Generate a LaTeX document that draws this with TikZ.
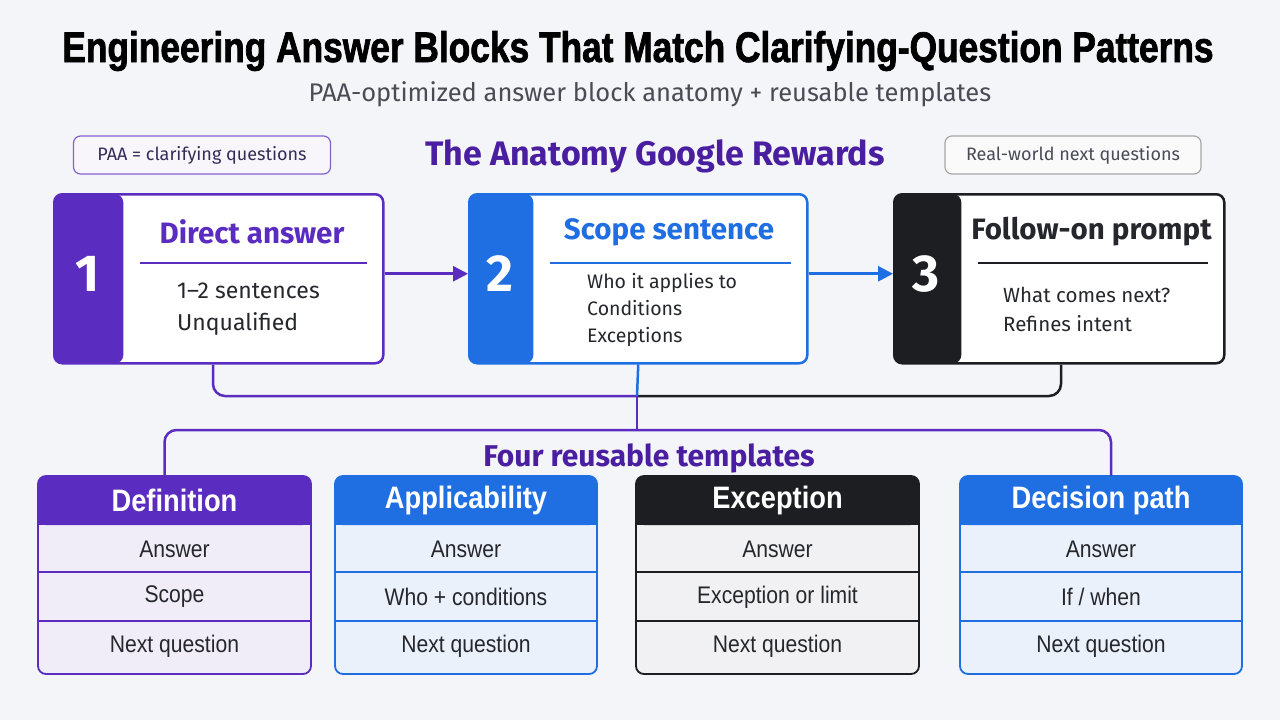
\documentclass[tikz,border=0pt]{standalone}
\usepackage{fontspec}
\usepackage{graphicx}
\setmainfont{Fira Sans}
\newfontfamily\condfont{Liberation Sans}[FakeStretch=0.88]
\newfontfamily\titlefont{Liberation Sans}[FakeStretch=0.8, BoldFeatures={FakeBold=1.6}]
\usetikzlibrary{positioning, arrows.meta, calc}

\definecolor{pbg}{HTML}{F4F5F8}
\definecolor{vio}{HTML}{5A2DC0}
\definecolor{vioT}{HTML}{4A1EA0}
\definecolor{blu}{HTML}{1F6FE2}
\definecolor{blk}{HTML}{1D1E22}
\definecolor{ink}{HTML}{26272C}
\definecolor{greyT}{HTML}{4A4B55}
\definecolor{pilltxt}{HTML}{362C58}
\definecolor{lav}{HTML}{F0EDF8}
\definecolor{lblu}{HTML}{EAF1FB}
\definecolor{lgry}{HTML}{F1F1F3}

\begin{document}
\begin{tikzpicture}[x=1pt, y=-1pt, >={Triangle[length=15pt,width=15pt]},
  pill/.style={draw, rounded corners=7pt, line width=1.2pt, minimum height=38pt, font=\fontsize{18}{20}\selectfont},
  card/.style={draw, fill=white, rounded corners=8pt, line width=2.5pt, minimum height=169pt, anchor=north west, inner sep=0},
  num/.style={text=white, font=\fontsize{52}{52}\selectfont\bfseries},
  head/.style={font=\fontsize{29.5}{32}\selectfont\bfseries},
  lbl/.style={text=ink, align=left, anchor=west, inner sep=0},
  tplhead/.style={text=white, font=\condfont\fontsize{31}{33}\selectfont\bfseries, minimum height=49pt},
  cell/.style={text=ink, font=\condfont\fontsize{24}{26}\selectfont},
  link/.style={line width=2.5pt, rounded corners=12pt}]

\fill[pbg] (0,0) rectangle (1280,720);
\useasboundingbox (0,0) rectangle (1280,720);

% headline
\node[anchor=base] (title) at (638,62) {\resizebox{1151pt}{31pt}{\titlefont\bfseries Engineering Answer Blocks That Match Clarifying-Question Patterns}};
\node[anchor=base, text=greyT, font=\fontsize{25.5}{27}\selectfont] (sub) at (650,101) {PAA-optimized answer block anatomy + reusable templates};

\node[pill, draw=vio!75, fill=lav!50, text=pilltxt, minimum width=257pt] (paa) at (202,155) {PAA = clarifying questions};
\node[pill, draw=gray!70, fill=white!50!pbg, text=greyT, minimum width=256pt] (rw) at (1073,155) {Real-world next questions};
\node[anchor=base, text=vioT, font=\fontsize{34}{36}\selectfont\bfseries] (anat) at (655,165) {The Anatomy Google Rewards};

% the three parts of a block
\foreach \n/\x/\w/\bw/\col/\tc/\ttl/\fs/\ls/\bx/\body in {
    1/53/329/69/vio/vio/Direct answer/23/32/55/{1--2 sentences\\Unqualified},
    2/468/338/64/blu/blu/Scope sentence/19.5/27/55/{Who it applies to\\Conditions\\Exceptions},
    3/893/330/67/blk/ink/Follow-on prompt/20.5/29/43/{What comes next?\\Refines intent}} {
  \node[card, draw=\col, minimum width=\w pt,
        path picture={\fill[\col] (path picture bounding box.north west) rectangle ($(path picture bounding box.south west)+(\bw,0)$);}] (s\n) at (\x,193) {};
  \node[num] (n\n) at ($(s\n.west)+(\bw/2,-5)$) {\n};
  \node[head, text=\tc] (h\n) at ($(s\n.north west)+({(\w+\bw)/2},39)$) {\ttl};
  \draw[\col, line width=1.5pt] ($(s\n.north west)+(\bw+18,70)$) -- ($(s\n.north east)+(-18,70)$);
  \node[lbl, font=\fontsize{\fs}{\ls}\selectfont] (b\n) at ($(s\n.south west)+(\bw+\bx,-55)$) {\body};
}
\draw[->, vio, line width=2.7pt] ($(s1.east)+(0,-5)$) -- ($(s2.west)+(0,-5)$);
\draw[->, blu, line width=2.7pt] ($(s2.east)+(0,-5)$) -- ($(s3.west)+(0,-5)$);

% templates
\foreach \i/\x/\w/\col/\bg/\ttl/\mid in {
    1/38/273/vio/lav/Definition/Scope,
    2/335/262/blu/lblu/Applicability/Who + conditions,
    3/636/283/blk/lgry/Exception/Exception or limit,
    4/960/282/blu/lblu/Decision path/{If / when}} {
  \fill[\bg, rounded corners=8pt] (\x,476) rectangle (\x+\w,674);
  \fill[\col, rounded corners=8pt] (\x,476) rectangle (\x+\w,525);
  \fill[\col] (\x,500) rectangle (\x+\w,525);
  \draw[\col, line width=1.4pt] (\x,572) -- (\x+\w,572) (\x,621) -- (\x+\w,621);
  \draw[\col, line width=1.8pt, rounded corners=8pt] (\x,476) rectangle (\x+\w,674);
  \node[tplhead, minimum width=\w pt] (t\i) at (\x+\w/2,500.5) {\ttl};
  \node[cell] (t\i-a) at (\x+\w/2,549) {Answer};
  \node[cell] (t\i-b) at (\x+\w/2,597) {\mid};
  \node[cell] (t\i-c) at (\x+\w/2,646) {Next question};
}
\node[anchor=base, text=vioT, font=\fontsize{30}{32}\selectfont\bfseries] (four) at (649,466) {Four reusable templates};

% joins
\coordinate (j1) at (637,396);
\coordinate (j2) at (637,430);
\draw[link, vio] ($(s1.south west)+(160,0)$) |- (j1);
\draw[link, blk] ($(s3.south west)+(168,0)$) |- (j1);
\draw[link, blu] (s2.south) -- (j1);
\draw[link, vio] (j1) -- (j2);
\draw[link, vio] ($(t1.north)+(-10,0)$) |- (j2) -| ($(t4.north)+(10,0)$);
\end{tikzpicture}
\end{document}
